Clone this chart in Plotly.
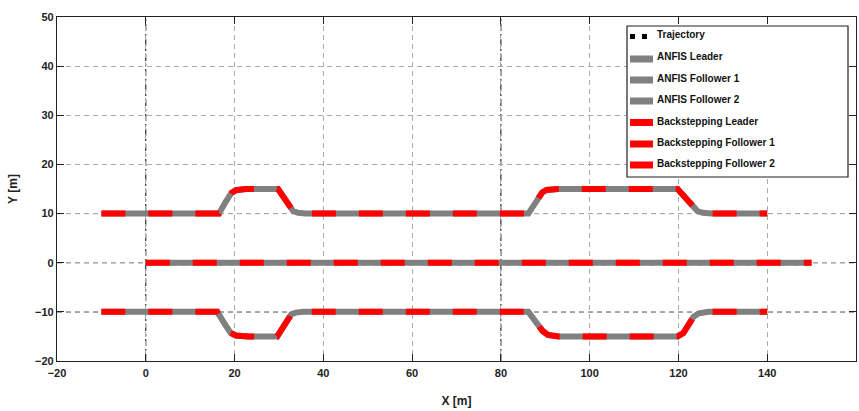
import plotly.graph_objects as go

# Leader path (straight line at y = 0)
leader_x = [0, 150]
leader_y = [0, 0]

# Follower 1 (upper, lane change to +15)
anfis_f1_x = [-10, 16.5, 18.0, 19.3, 20.3, 21.3, 22.5, 29.8, 31.0, 32.3, 33.2, 34.3, 36.0, 86.2,
              87.8, 89.3, 90.3, 91.4, 92.8, 119.8, 121.3, 123.2, 124.3, 125.5, 127.5, 140]
anfis_f1_y = [10, 10, 12.4, 14.2, 14.75, 14.95, 15.0, 15.0, 13.3, 11.3, 10.5, 10.15, 10.0, 10,
              12.3, 14.3, 14.8, 14.97, 15.0, 15.0, 13.4, 11.3, 10.5, 10.15, 10.0, 10]

# Follower 2 (lower, lane change to -15)
anfis_f2_x = [-10, 16.1, 17.6, 19.1, 20.3, 21.6, 23.0, 29.6, 30.8, 31.8, 32.8, 33.8, 35.5,
              86.2, 87.8, 89.4, 90.6, 91.6, 93.0, 119.8, 121.1, 122.3, 123.4, 124.6, 126.8, 140]
anfis_f2_y = [-10, -10, -12.2, -14.3, -14.8, -14.97, -15.0, -15.0, -13.4, -11.6, -10.5, -10.15, -10.0,
              -10, -12.1, -13.9, -14.7, -14.95, -15.0, -15.0, -14.3, -12.6, -11.0, -10.3, -10.0, -10]

# Backstepping results (practically on top of the ANFIS paths)
bs_f1_x = anfis_f1_x
bs_f1_y = anfis_f1_y
bs_f2_x = anfis_f2_x
bs_f2_y = anfis_f2_y

legend_names = ['Trajectory', 'ANFIS Leader', 'ANFIS Follower 1', 'ANFIS Follower 2',
                'Backstepping Leader', 'Backstepping Follower 1', 'Backstepping Follower 2']

GRAY = '#808080'
RED = '#ff0000'
FONT = 'Arial, Liberation Sans, sans-serif'
DASH = '24px,23px'

# plot area in pixels (used for the hand-made legend box)
PL, PR, PT, PB = 57, 856, 17, 361


def px(xp):
    return (xp - PL) / (PR - PL)


def py(yp):
    return 1 - (yp - PT) / (PB - PT)


fig = go.Figure()

# Reference trajectory (mostly hidden under the thick lines)
fig.add_trace(go.Scatter(x=leader_x, y=leader_y, mode='lines', name=legend_names[0],
                         line=dict(color='black', width=5, dash='5px,7px')))

# ANFIS traces (solid gray)
for name, xs, ys in [(legend_names[1], leader_x, leader_y),
                     (legend_names[2], anfis_f1_x, anfis_f1_y),
                     (legend_names[3], anfis_f2_x, anfis_f2_y)]:
    fig.add_trace(go.Scatter(x=xs, y=ys, mode='lines', name=name,
                             line=dict(color=GRAY, width=6)))

# Backstepping traces (dashed red on top)
for name, xs, ys in [(legend_names[4], leader_x, leader_y),
                     (legend_names[5], bs_f1_x, bs_f1_y),
                     (legend_names[6], bs_f2_x, bs_f2_y)]:
    fig.add_trace(go.Scatter(x=xs, y=ys, mode='lines', name=name,
                             line=dict(color=RED, width=6, dash=DASH)))

# darker dashed grid lines
for yv in [10, 0, -10]:
    fig.add_hline(y=yv, line=dict(color='black', width=1, dash='5px,4px'), layer='below')
for xv in [0, 80]:
    fig.add_vline(x=xv, line=dict(color='black', width=1, dash='7px,3px,2px,3px'), layer='below')

# legend, drawn by hand (MATLAB style spacing)
fig.add_shape(type='rect', xref='paper', yref='paper', x0=px(627), x1=px(848), y0=py(177), y1=py(26),
              line=dict(color='#222222', width=1.2), fillcolor='white', layer='above')
text_y = [35, 56.5, 78, 99.5, 121, 142, 163.5]
sym_y = [36.5, 59, 80, 101, 122.5, 144, 165]
for i, name in enumerate(legend_names):
    if i == 0:
        for x0 in (630, 642):
            fig.add_shape(type='rect', xref='paper', yref='paper',
                          x0=px(x0), x1=px(x0 + 5), y0=py(sym_y[i] + 2.5), y1=py(sym_y[i] - 2.5),
                          line=dict(width=0), fillcolor='black', layer='above')
    else:
        fig.add_shape(type='line', xref='paper', yref='paper',
                      x0=px(630), x1=px(653), y0=py(sym_y[i]), y1=py(sym_y[i]),
                      line=dict(color=GRAY if i < 4 else RED, width=7), layer='above')
    fig.add_annotation(x=px(655), y=py(text_y[i]), xref='paper', yref='paper',
                       text=name, showarrow=False, xanchor='left', yanchor='middle',
                       font=dict(family=FONT, size=10, color='#111111', weight='bold'))

axis_common = dict(
    showline=True, linecolor='#222222', linewidth=1.2, mirror='allticks',
    ticks='inside', ticklen=7, tickcolor='#222222',
    showgrid=True, gridcolor='#aaaaaa', griddash='5px,4px', gridwidth=1,
    zeroline=False, automargin=False,
    tickfont=dict(family=FONT, size=11, color='#222222', weight='bold'),
    title_font=dict(family=FONT, size=12, color='#222222', weight='bold'),
)

fig.update_xaxes(range=[-20, 160], dtick=20, tick0=-20, title_text='X [m]', title_standoff=18,
                 ticklabelstandoff=2, **axis_common)
fig.update_yaxes(range=[-20, 50], dtick=10, tick0=-20, title_text='Y [m]', title_standoff=14,
                 **axis_common)

fig.update_layout(
    width=859, height=411,
    margin=dict(l=PL, r=859 - PR, t=PT, b=411 - PB),
    plot_bgcolor='white', paper_bgcolor='white',
    font=dict(family=FONT, color='#111111'),
    showlegend=False,
)

fig.write_html("out.html", config={'displayModeBar': False},
               post_script="document.body.style.margin='0px';")
